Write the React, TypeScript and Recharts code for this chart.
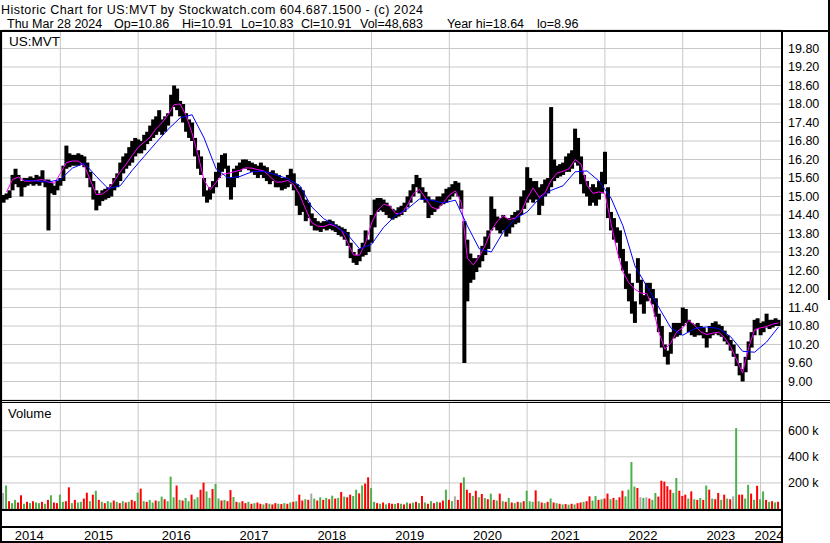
import { Bar, CartesianGrid, Cell, ComposedChart, Line, XAxis, YAxis } from "recharts";

const FONT = '"Liberation Sans", Arial, sans-serif';

// axis labels
const yearLabels = ["2014", "2015", "2016", "2017", "2018", "2019", "2020", "2021", "2022", "2023", "2024"];
const yearLabelAt = [2014.6, 2015.49, 2016.49, 2017.49, 2018.49, 2019.49, 2020.49, 2021.49, 2022.49, 2023.49, 2024.11];
const yearStarts = [2015, 2016, 2017, 2018, 2019, 2020, 2021, 2022, 2023, 2024];
const priceTicks = [9.0, 9.6, 10.2, 10.8, 11.4, 12.0, 12.6, 13.2, 13.8, 14.4, 15.0, 15.6, 16.2, 16.8, 17.4, 18.0, 18.6, 19.2, 19.8];
const volumeTicks = [200000, 400000, 600000];

// two-week bars, first one mid April 2014
const lows = [
  // 2014
  14.8, 14.9, 14.95, 15.2, 15.4, 15.3, 15.0, 15.3, 15.35, 15.4, 15.35, 15.4, 15.35, 15.45, 15.3, 13.9, 15.1, 15.05, 15.2, 15.35,
  // 2015
  15.5, 15.9, 15.95, 16.0, 16.0, 16.0, 16.05, 15.95, 15.6, 15.3, 14.9, 14.55, 14.7, 14.85, 14.9, 14.95, 15.0, 15.2, 15.3, 15.5, 15.75, 15.9, 16.0, 16.1, 16.3, 16.4,
  // 2016
  16.4, 16.5, 16.7, 16.8, 16.9, 17.0, 17.1, 17.0, 17.1, 17.3, 17.6, 17.9, 17.8, 17.6, 17.4, 17.1, 16.9, 16.8, 16.3, 15.9, 15.7, 15.0, 14.8, 14.9, 15.1, 15.3,
  // 2017
  15.6, 15.8, 15.9, 15.3, 14.9, 15.3, 15.6, 15.8, 15.9, 15.9, 15.85, 15.8, 15.7, 15.6, 15.7, 15.6, 15.5, 15.4, 15.5, 15.3, 15.3, 15.2, 15.25, 15.3, 15.4, 15.2,
  // 2018
  14.7, 14.4, 14.5, 14.2, 14.3, 14.05, 13.9, 13.9, 13.85, 13.95, 13.9, 13.95, 13.9, 13.85, 13.75, 13.7, 13.6, 13.4, 13.0, 12.85, 12.78, 12.9, 13.05, 13.1, 13.2, 13.5,
  // 2019
  14.0, 14.5, 14.55, 14.5, 14.4, 14.3, 14.25, 14.3, 14.35, 14.4, 14.5, 14.65, 14.8, 15.0, 15.3, 15.1, 14.9, 14.8, 14.3, 14.4, 14.5, 14.6, 14.7, 14.75, 14.8, 14.9,
  // 2020
  15.0, 15.1, 15.0, 14.6, 9.6, 11.6, 12.2, 12.3, 12.55, 12.7, 12.9, 13.1, 13.3, 13.9, 14.0, 13.9, 13.8, 13.9, 13.7, 13.8, 14.0, 14.1, 14.15, 14.4, 14.6, 14.8,
  // 2021
  14.9, 14.8, 14.9, 14.4, 14.7, 15.0, 15.1, 15.3, 15.5, 15.6, 15.65, 15.7, 15.8, 15.8, 15.9, 16.1, 16.0, 15.4, 15.1, 15.0, 14.7, 14.8, 14.7, 14.9, 15.1, 15.4,
  // 2022
  14.3, 13.9, 13.6, 13.5, 13.0, 12.6, 12.0, 11.6, 11.2, 10.9, 12.2, 11.5, 11.2, 11.6, 11.7, 11.5, 11.1, 10.6, 10.1, 9.8, 9.55, 9.9, 10.4, 10.45, 10.5, 10.8,
  // 2023
  10.9, 10.6, 10.5, 10.45, 10.5, 10.5, 10.4, 10.1, 10.4, 10.5, 10.55, 10.5, 10.45, 10.3, 10.2, 10.0, 9.8, 9.5, 9.2, 9.0, 9.3, 9.7, 10.1, 10.5, 10.7, 10.5,
  // 2024
  10.6, 10.75, 10.7, 10.75, 10.8, 10.8,
];

const highs = [
  // 2014
  15.05, 15.1, 15.2, 15.7, 15.9, 15.7, 15.5, 15.6, 15.6, 15.65, 15.6, 15.7, 15.65, 15.85, 15.55, 15.55, 15.45, 15.35, 15.5, 15.6,
  // 2015
  16.0, 16.65, 16.4, 16.35, 16.35, 16.4, 16.35, 16.3, 16.1, 15.8, 15.5, 15.2, 15.1, 15.2, 15.25, 15.3, 15.4, 15.6, 15.75, 16.1, 16.3, 16.4, 16.6, 16.8, 16.9, 16.85,
  // 2016
  16.8, 17.0, 17.1, 17.3, 17.5, 17.6, 17.8, 17.5, 17.6, 17.7, 18.3, 18.6, 18.5, 18.1, 18.0, 17.7, 17.5, 17.4, 16.9, 16.5, 16.3, 15.6, 15.2, 15.3, 15.5, 15.8,
  // 2017
  16.1, 16.35, 16.4, 16.0, 15.6, 15.9, 16.0, 16.1, 16.2, 16.2, 16.15, 16.1, 16.05, 16.0, 16.1, 16.0, 15.95, 15.8, 15.85, 15.75, 15.7, 15.6, 15.6, 15.7, 15.9, 15.75,
  // 2018
  15.4, 15.3, 15.2, 14.9, 14.8, 14.45, 14.3, 14.2, 14.15, 14.2, 14.2, 14.25, 14.2, 14.1, 14.05, 14.0, 13.95, 13.85, 13.5, 13.2, 13.1, 13.3, 13.5, 13.9, 13.6, 14.4,
  // 2019
  14.9, 14.95, 14.95, 14.9, 14.8, 14.7, 14.6, 14.55, 14.65, 14.7, 14.8, 15.0, 15.2, 15.4, 15.7, 15.6, 15.3, 15.15, 15.0, 14.9, 14.9, 15.0, 15.0, 15.1, 15.25, 15.3,
  // 2020
  15.4, 15.5, 15.45, 15.2, 14.2, 13.6, 13.15, 13.0, 13.0, 13.1, 13.4, 13.7, 13.9, 15.0, 14.6, 14.35, 14.3, 14.4, 14.3, 14.3, 14.4, 14.5, 14.55, 15.0, 15.2, 15.95,
  // 2021
  15.6, 15.5, 15.5, 15.3, 15.4, 15.55, 15.6, 17.9, 16.2, 16.0, 16.05, 16.1, 16.3, 16.4, 16.5, 17.2, 16.9, 16.3, 15.7, 15.5, 15.3, 15.4, 15.3, 15.5, 15.8, 16.45,
  // 2022
  15.3, 14.5, 14.3, 14.0, 13.9, 13.3, 12.9, 12.5, 12.2, 11.6, 13.0, 12.3, 11.8, 12.2, 12.2, 12.0, 11.7, 11.2, 10.8, 10.2, 10.0, 10.6, 10.9, 10.9, 10.9, 11.4,
  // 2023
  11.35, 11.0, 10.9, 10.85, 10.9, 10.8, 10.75, 10.6, 10.8, 10.9, 10.95, 10.85, 10.8, 10.65, 10.5, 10.35, 10.2, 9.9, 9.6, 9.4, 9.8, 10.3, 10.6, 11.0, 11.05, 10.9,
  // 2024
  10.95, 11.2, 11.0, 11.0, 11.05, 11.0,
];

// volume in thousands, same two-week steps
const volumesK = [
  123, 180, 60, 45, 70, 50, 105, 40, 55, 45, 60, 50, 45, 55, 40, 70, 105, 50, 45, 110,
  55, 60, 166, 45, 70, 50, 55, 80, 125, 60, 110, 140, 70, 55, 45, 60, 50, 65, 55, 45, 60, 50, 55, 70, 60, 125,
  156, 60, 55, 70, 50, 65, 60, 95, 75, 60, 248, 90, 180, 70, 65, 85, 60, 110, 75, 90, 148, 202, 135, 85, 153, 192,
  80, 65, 70, 60, 145, 92, 55, 50, 60, 45, 55, 40, 45, 50, 40, 35, 45, 40, 35, 45, 40, 38, 45, 40, 50, 55,
  60, 110, 65, 75, 70, 118, 80, 65, 90, 70, 85, 75, 102, 80, 85, 130, 95, 90, 110, 100, 148, 120, 180, 195, 243, 160,
  55, 45, 40, 50, 35, 45, 40, 38, 45, 40, 35, 50, 42, 48, 55, 45, 100, 50, 40, 60, 45, 55, 50, 65, 148, 70,
  60, 97, 70, 200, 243, 148, 123, 100, 140, 90, 115, 84, 75, 118, 70, 65, 118, 60, 55, 85, 50, 45, 55, 50, 60, 140,
  60, 55, 143, 60, 50, 45, 55, 80, 50, 45, 40, 35, 38, 33, 40, 35, 45, 50, 55, 60, 97, 65, 100, 70, 75, 80,
  118, 75, 85, 70, 90, 140, 97, 148, 360, 172, 161, 90, 85, 90, 80, 70, 123, 95, 217, 210, 175, 148, 123, 238, 140, 100,
  110, 80, 135, 75, 70, 85, 70, 180, 148, 80, 75, 123, 70, 110, 80, 75, 97, 620, 110, 110, 80, 185, 118, 70, 178, 75,
  135, 70, 55, 60, 50, 55,
];

// g = up, r = down, n = unchanged
const volumeDirs =
  "ngrggrrgrgrggrgrgrrg" +
  "grrgrggrrgrgrgrggrgrgrgrrg" +
  "rgrggrggrgggrgrggrggrrggrg" +
  "grgrrgrgrrgrgrrgrgrrgrgrgr" +
  "grrgrngrgrgrgrgrgrrggrgrrg" +
  "grgrgrrgrgrgrgrgrgrgrgrrgr" +
  "gnrrgrrgrgrgrgrgrgrgrgrgrg" +
  "ggrgrgrgrgrgrgrgrrgrrggrgr" +
  "rgrgrrggggrngnrggrrrrrggrr" +
  "rgrgrgrgrgrrgrgrngrrggrgrg" +
  "grgrgr";

// short average (magenta), every second bar from bar 1
const maFast = [
  15.15, 15.55, 15.63, 15.5, 15.5, 15.52, 15.55, 15.47, 15.43, 15.75,
  16.1, 16.15, 16.15, 16.0, 15.53, 15.06, 15.08, 15.22, 15.5, 15.8,
  16.05, 16.33, 16.6, 16.76, 16.93, 17.2, 17.4, 17.65, 17.98, 18.0,
  17.63, 17.05, 16.35, 15.53, 15.22, 15.45, 15.72, 15.75, 15.8, 15.85,
  15.93, 15.92, 15.87, 15.83, 15.65, 15.47, 15.47, 15.52, 15.38, 15.05,
  14.58, 14.15, 14.04, 14.02, 14.1, 14.03, 13.9, 13.5, 13.1, 13.1,
  13.5, 14.14, 14.55, 14.75, 14.7, 14.45, 14.45, 14.72, 15.1, 15.23,
  14.95, 14.66, 14.58, 14.8, 15.05, 15.18, 14.8, 13.0, 12.78, 13.05,
  13.42, 13.9, 14.2, 14.38, 14.25, 14.3, 14.5, 14.95, 15.28, 14.97,
  15.12, 15.53, 15.76, 15.82, 15.9, 16.2, 16.05, 15.36, 15.1, 15.15,
  15.1, 14.13, 13.25, 12.55, 12.2, 11.99, 11.87, 11.85, 11.4, 10.6,
  10.05, 10.25, 10.62, 10.74, 10.98, 10.82, 10.61, 10.52, 10.57, 10.6,
  10.42, 10.13, 9.7, 9.28, 10.1, 10.68, 10.74, 10.78, 10.86, 10.9,
];

// long average (blue), every fourth bar from bar 7
const maSlow = [
  15.53, 15.5, 15.47, 15.55, 15.92, 16.08, 15.65, 15.25, 15.35, 15.85,
  16.3, 16.75, 17.18, 17.55, 17.65, 16.9, 15.9, 15.6, 15.65, 15.8,
  15.82, 15.7, 15.58, 15.35, 14.66, 14.28, 14.05, 13.76, 13.3, 13.45,
  14.0, 14.38, 14.6, 14.92, 14.88, 14.79, 14.88, 14.05, 13.3, 13.2,
  13.85, 14.28, 14.5, 14.93, 15.2, 15.35, 15.8, 15.83, 15.5, 14.95,
  14.05, 12.75, 12.08, 11.4, 10.74, 10.5, 10.72, 10.77, 10.72, 10.45,
  9.98, 9.95, 10.28, 10.77,
];

const T0 = 2014.27;
const tOf = (i: number) => T0 + i / 26;
const X_DOMAIN: [number, number] = [2014.25, 2024.276];

const bars = lows.map((lo, i) => ({
  t: tOf(i),
  lo,
  hi: highs[i],
  vol: volumesK[i] * 1000,
  dir: volumeDirs[i],
}));
const fastLine = maFast.map((v, k) => ({ t: tOf(1 + 2 * k), v }));
const slowLine = maSlow.map((v, k) => ({ t: tOf(7 + 4 * k), v }));

const volColor: Record<string, string> = { g: "#4cb04c", r: "#ff0000", n: "#a8a8a8" };

const line2: [string, number][] = [
  ["Thu Mar 28 2024", 7],
  ["Op=10.86", 114],
  ["Hi=10.91", 182],
  ["Lo=10.83", 241],
  ["Cl=10.91", 301],
  ["Vol=48,683", 360],
  ["Year hi=18.64", 447],
  ["lo=8.96", 537],
];

function YearTick(props: any) {
  const { x, y, index } = props;
  return (
    <text x={x} y={y + 30.5} textAnchor="middle" fontSize={13} fontFamily={FONT} fill="#000">
      {yearLabels[index]}
    </text>
  );
}

function YearDivider(props: any) {
  const { x, y, payload } = props;
  const last = payload.value === yearStarts[yearStarts.length - 1];
  return <rect x={x - 1} y={y} width={2} height={last ? 32 : 17} fill="#000" />;
}

// range bar drawn a touch wider so neighbouring periods join into one band
function RangeBar(props: any) {
  const { x, y, width, height } = props;
  if (height == null || width == null) return null;
  return <rect x={x - 0.5} y={y} width={width + 1} height={Math.max(height, 1)} fill="#000" />;
}

const tickStyle = { fontSize: 12.5, fill: "#000", fontFamily: FONT };

export default function App() {
  return (
    <div
      style={{
        position: "absolute",
        left: 0,
        top: 0,
        width: 830,
        height: 543,
        background: "#fff",
        overflow: "hidden",
        fontFamily: FONT,
      }}
    >
      <div style={{ position: "absolute", left: 0, top: 0 }}>
        <ComposedChart
          width={830}
          height={400}
          data={bars}
          barCategoryGap={0}
          barGap={0}
          margin={{ top: 30, right: 0, bottom: 0, left: 2 }}
        >
          <CartesianGrid stroke="#c8c8c8" />
          <XAxis dataKey="t" type="number" domain={X_DOMAIN} ticks={yearStarts} allowDataOverflow hide />
          <YAxis
            orientation="right"
            width={48}
            domain={[8.4, 20.4]}
            ticks={priceTicks}
            interval={0}
            allowDataOverflow
            axisLine={false}
            tickLine={false}
            tickSize={0}
            tickMargin={6}
            tick={tickStyle}
            tickFormatter={(v: number) => v.toFixed(2)}
          />
          <Bar dataKey={(d: any) => [d.lo, d.hi]} fill="#000" shape={<RangeBar />} isAnimationActive={false} />
          <Line data={fastLine} dataKey="v" stroke="#ff00ff" strokeWidth={1} dot={false} isAnimationActive={false} />
          <Line data={slowLine} dataKey="v" stroke="#0000ff" strokeWidth={1} dot={false} isAnimationActive={false} />
        </ComposedChart>
      </div>

      <div style={{ position: "absolute", left: 0, top: 400 }}>
        <ComposedChart width={830} height={143} data={bars} margin={{ top: 2, right: 0, bottom: 2, left: 2 }}>
          <CartesianGrid stroke="#c8c8c8" />
          <XAxis
            dataKey="t"
            type="number"
            domain={X_DOMAIN}
            ticks={yearStarts}
            interval={0}
            allowDataOverflow
            height={0}
            axisLine={false}
            tickLine={false}
            tickSize={0}
            tickMargin={0}
            tick={<YearDivider />}
          />
          <XAxis
            xAxisId="lbl"
            dataKey="t"
            type="number"
            domain={X_DOMAIN}
            ticks={yearLabelAt}
            interval={0}
            allowDataOverflow
            height={32}
            axisLine={false}
            tickLine={false}
            tickSize={0}
            tickMargin={0}
            tick={<YearTick />}
          />
          <YAxis
            orientation="right"
            width={48}
            domain={[0, 820000]}
            ticks={volumeTicks}
            interval={0}
            allowDataOverflow
            axisLine={false}
            tickLine={false}
            tickSize={0}
            tickMargin={6}
            tick={tickStyle}
            tickFormatter={(v: number) => `${v / 1000} k`}
          />
          <Bar dataKey="vol" barSize={2} isAnimationActive={false}>
            {bars.map((b, i) => (
              <Cell key={i} fill={volColor[b.dir]} />
            ))}
          </Bar>
        </ComposedChart>
      </div>

      <svg
        width={830}
        height={543}
        style={{ position: "absolute", left: 0, top: 0, pointerEvents: "none" }}
      >
        <text x={1} y={14} fontSize={12.5} fontFamily={FONT} textLength={422} lengthAdjust="spacing">
          Historic Chart for US:MVT by Stockwatch.com 604.687.1500 - (c) 2024
        </text>
        <text y={28} fontSize={12.5} fontFamily={FONT}>
          {line2.map(([s, x]) => (
            <tspan key={s} x={x}>
              {s}
            </tspan>
          ))}
        </text>
        <text x={9} y={46} fontSize={13.5} fontFamily={FONT}>
          US:MVT
        </text>
        <text x={8} y={417.5} fontSize={13} fontFamily={FONT}>
          Volume
        </text>

        <rect x={0} y={30} width={830} height={2} fill="#000" />
        <rect x={828} y={0} width={2} height={300} fill="#000" />
        <rect x={0} y={30} width={2} height={513} fill="#000" />
        <rect x={781} y={30} width={2} height={513} fill="#000" />
        <rect x={0} y={400} width={830} height={1} fill="#000" />
        <rect x={0} y={402} width={830} height={1} fill="#000" />
        <rect x={0} y={509} width={783} height={2} fill="#000" />
        <rect x={0} y={526} width={783} height={2} fill="#000" />
        <rect x={0} y={541} width={783} height={2} fill="#000" />
      </svg>
    </div>
  );
}
